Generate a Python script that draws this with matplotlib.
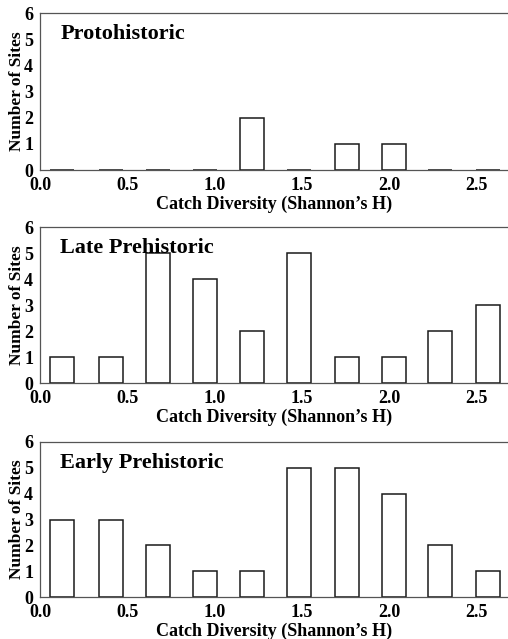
import matplotlib
matplotlib.use("Agg")
import matplotlib.pyplot as plt

# Bin centers of Shannon's H
bin_centers = [0.126, 0.406, 0.675, 0.944, 1.213, 1.482, 1.757, 2.025, 2.288, 2.563]
bar_width = 0.137

panels = ["Protohistoric", "Late Prehistoric", "Early Prehistoric"]
protohistoric = [0, 0, 0, 0, 2, 0, 1, 1, 0, 0]
late_prehistoric = [1, 1, 5, 4, 2, 5, 1, 1, 2, 3]
early_prehistoric = [3, 3, 2, 1, 1, 5, 5, 4, 2, 1]
series = [protohistoric, late_prehistoric, early_prehistoric]

x_ticks = [0.0, 0.5, 1.0, 1.5, 2.0, 2.5]
x_ticklabels = ["0.0", "0.5", "1.0", "1.5", "2.0", "2.5"]
y_ticks = [0, 1, 2, 3, 4, 5, 6]

plt.rcParams['font.family'] = ['Liberation Serif', 'DejaVu Serif']
plt.rcParams['font.weight'] = 'bold'

W, H = 508, 639
fig = plt.figure(figsize=(W / 100, H / 100), dpi=100)

# (top_px, bottom_px) of each axes
boxes = [(13, 170), (227, 383), (442, 597)]
left_px = 40

for (top, bot), name, vals in zip(boxes, panels, series):
    ax = fig.add_axes([left_px / W, 1 - bot / H, (W - left_px) / W, (bot - top) / H])
    ax.bar(bin_centers, vals, width=bar_width, facecolor='white',
           edgecolor='#1a1a1a', linewidth=1.1)
    ax.set_xlim(0, 2.68)
    ax.set_ylim(0, 6)
    ax.set_xticks(x_ticks)
    ax.set_xticklabels(x_ticklabels)
    ax.set_yticks(y_ticks)
    ax.tick_params(axis='both', length=0, labelsize=13)
    ax.tick_params(axis='x', pad=5)
    ax.tick_params(axis='y', pad=5)
    for lab in ax.get_xticklabels() + ax.get_yticklabels():
        lab.set_fontweight('bold')
    for s in ['left', 'top', 'bottom']:
        ax.spines[s].set_color('#555555')
        ax.spines[s].set_linewidth(0.9)
    ax.spines['right'].set_visible(False)
    ax.set_xlabel("Catch Diversity (Shannon\u2019s H)", fontsize=13,
                  fontweight='bold', labelpad=1)
    ax.set_ylabel("Number of Sites", fontsize=12.5, fontweight='bold', labelpad=-1)
    ax.text(0.043, 0.93, name, transform=ax.transAxes, fontsize=16,
            fontweight='bold', va='top', ha='left')

fig.savefig("out.png", dpi=100)
